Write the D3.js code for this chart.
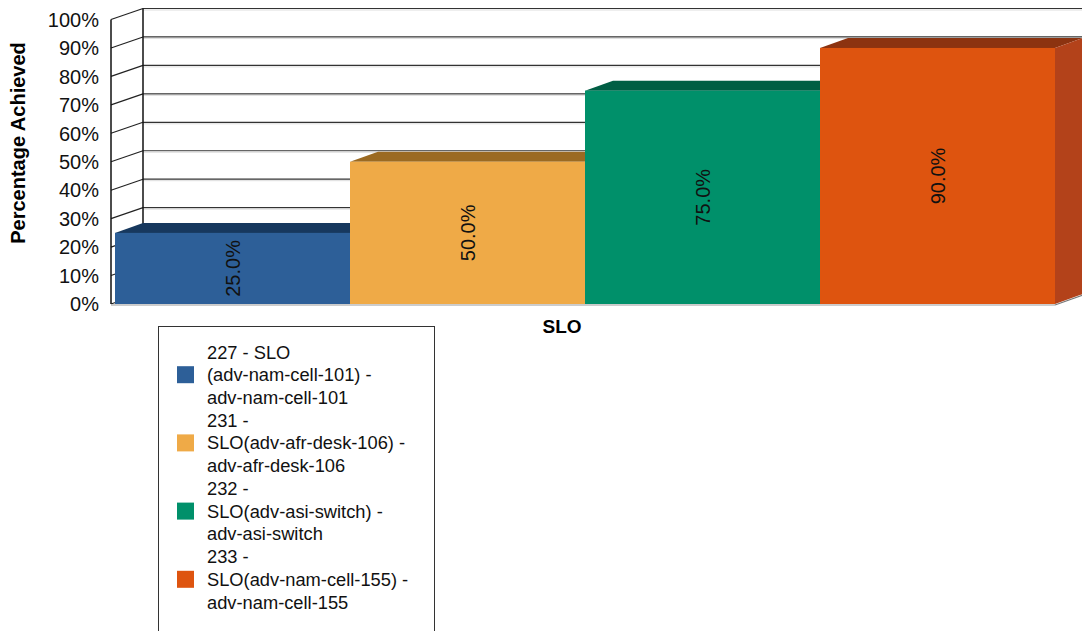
<!DOCTYPE html>
<html><head><meta charset="utf-8">
<script src="https://cdn.jsdelivr.net/npm/d3@7"></script>
<style>body{margin:0;background:#fff}svg{display:block;font-family:"Liberation Sans",Arial,sans-serif}</style>
</head><body><svg id="c" width="1082" height="631"></svg>
<script>
const categories = ["SLO"];
const seriesNames = [
  ["227 - SLO", "(adv-nam-cell-101) -", "adv-nam-cell-101"],
  ["231 -", "SLO(adv-afr-desk-106) -", "adv-afr-desk-106"],
  ["232 -", "SLO(adv-asi-switch) -", "adv-asi-switch"],
  ["233 -", "SLO(adv-nam-cell-155) -", "adv-nam-cell-155"]
];
const seriesKeys = ["227", "231", "232", "233"];
const values = [25.0, 50.0, 75.0, 90.0];
const tickValues = [0, 10, 20, 30, 40, 50, 60, 70, 80, 90, 100];
const frontColors = ["#2D5F98", "#EFAA47", "#00906A", "#DE540F"];
const topColors = ["#17385E", "#9B6A22", "#005E44", "#8C3310"];
const sideColors = ["#1F4470", "#B97F2E", "#00704F", "#B3421A"];

const svg = d3.select("#c");
const y = d3.scaleLinear().domain([0, 100]).range([304, 19.5]);
const x = d3.scaleBand().domain(seriesKeys).range([115, 1055]).padding(0);
const axisX = 111, wdx = 32, wdy = -11;
const bdx = 28, bdy = -10;

// walls / grid
const g = svg.append("g");
tickValues.forEach(v => {
  g.append("line").attr("x1", axisX).attr("y1", y(v)).attr("x2", axisX + wdx).attr("y2", y(v) + wdy)
    .attr("stroke", "#222").attr("stroke-width", 1.2);
  g.append("line").attr("x1", axisX + wdx).attr("y1", y(v) + wdy).attr("x2", 1082).attr("y2", y(v) + wdy)
    .attr("stroke", "#333").attr("stroke-width", 1.2);
  g.append("line").attr("x1", axisX + wdx).attr("y1", y(v) + wdy + 1.5).attr("x2", 1082).attr("y2", y(v) + wdy + 1.5)
    .attr("stroke", "#ddd").attr("stroke-width", 1);
});
g.append("line").attr("x1", axisX + wdx).attr("y1", y(100) + wdy).attr("x2", axisX + wdx).attr("y2", y(0) + wdy)
  .attr("stroke", "#111").attr("stroke-width", 1.5);
g.append("line").attr("x1", axisX).attr("y1", y(100)).attr("x2", axisX).attr("y2", y(0))
  .attr("stroke", "#111").attr("stroke-width", 1.5);
// floor
g.append("line").attr("x1", axisX).attr("y1", y(0) + 1).attr("x2", 1055).attr("y2", y(0) + 1)
  .attr("stroke", "#bbb").attr("stroke-width", 1.5);
g.append("line").attr("x1", 1055).attr("y1", y(0) + 1).attr("x2", 1055 + bdx).attr("y2", y(0) + 1 + bdy)
  .attr("stroke", "#777").attr("stroke-width", 1.2);

// tick labels
svg.append("g").selectAll("text").data(tickValues).join("text")
  .attr("x", 99).attr("y", d => y(d)).attr("dy", "0.36em").attr("text-anchor", "end")
  .attr("font-size", 20).attr("fill", "#111").text(d => d + "%");

// bars
const bars = svg.append("g");
seriesKeys.forEach((k, i) => {
  const x0 = x(k), x1 = x(k) + x.bandwidth(), yt = y(values[i]), yb = y(0);
  bars.append("path").attr("d", `M${x0},${yt}L${x0 + bdx},${yt + bdy}L${x1 + bdx},${yt + bdy}L${x1},${yt}Z`).attr("fill", topColors[i]);
  bars.append("path").attr("d", `M${x1},${yt}L${x1 + bdx},${yt + bdy}L${x1 + bdx},${yb + bdy}L${x1},${yb}Z`).attr("fill", sideColors[i]);
  bars.append("rect").attr("x", x0).attr("y", yt).attr("width", x1 - x0).attr("height", yb - yt).attr("fill", frontColors[i]);
  const cx = (x0 + x1) / 2, cy = (yt + yb) / 2;
  bars.append("text").attr("transform", `translate(${cx},${cy}) rotate(-90)`)
    .attr("text-anchor", "middle").attr("dy", "0.36em").attr("font-size", 20).attr("fill", "#111")
    .text(values[i].toFixed(1) + "%");
});

// axis titles
svg.append("text").attr("transform", "translate(24.5,143) rotate(-90)").attr("text-anchor", "middle")
  .attr("font-size", 20).attr("font-weight", "bold").attr("fill", "#000").text("Percentage Achieved");
svg.append("text").attr("x", 562).attr("y", 326).attr("dy", "0.36em").attr("text-anchor", "middle")
  .attr("font-size", 19).attr("font-weight", "bold").attr("fill", "#000").text(categories[0]);

// legend
const lg = svg.append("g");
lg.append("rect").attr("x", 158.5).attr("y", 326.5).attr("width", 276).attr("height", 320)
  .attr("fill", "#fff").attr("stroke", "#333").attr("stroke-width", 1);
const lineH = 22.7, itemH = 68.2, top0 = 352;
seriesKeys.forEach((k, i) => {
  const base = top0 + i * itemH;
  lg.append("rect").attr("x", 177).attr("y", base + lineH - 8.5).attr("width", 17).attr("height", 17).attr("fill", frontColors[i]);
  seriesNames[i].forEach((t, j) => {
    lg.append("text").attr("x", 207).attr("y", base + j * lineH).attr("dy", "0.36em")
      .attr("font-size", 18.3).attr("fill", "#111").text(t);
  });
});
</script></body></html>
